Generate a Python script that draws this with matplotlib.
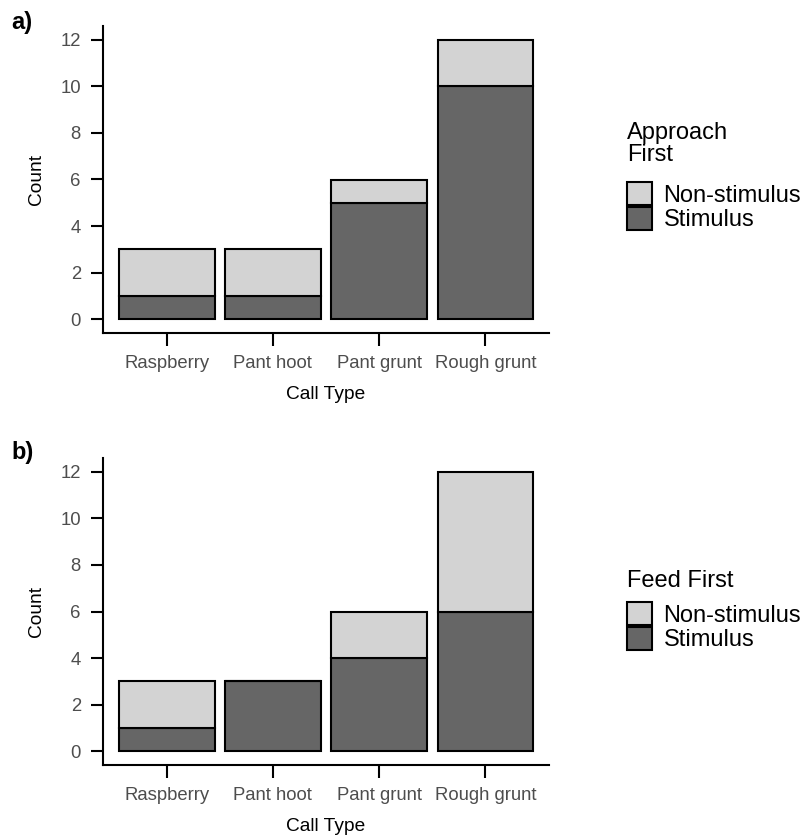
import matplotlib
matplotlib.use('Agg')
from matplotlib import pyplot as plt
from matplotlib.patches import Patch
import numpy as np

plt.rcParams['font.family'] = ['Liberation Sans', 'DejaVu Sans']

call_types = ['Raspberry', 'Pant hoot', 'Pant grunt', 'Rough grunt']
# panel a) approach first
approach_stim = [1, 1, 5, 10]
approach_non = [2, 2, 1, 2]
# panel b) feed first
feed_stim = [1, 3, 4, 6]
feed_non = [2, 0, 2, 6]

LIGHT = '#D3D3D3'
DARK = '#666666'
W, H = 807, 840


def draw_panel(ax, stim, non):
    x = np.arange(1, len(call_types) + 1)
    ax.bar(x, stim, width=0.9, color=DARK, edgecolor='black', linewidth=1.5, zorder=2)
    ax.bar(x, non, width=0.9, bottom=stim, color=LIGHT, edgecolor='black', linewidth=1.5, zorder=2)
    ax.set_xlim(0.4, 4.6)
    ax.set_ylim(-0.6, 12.6)
    ax.set_xticks(x)
    ax.set_xticklabels(call_types)
    ax.set_yticks(range(0, 13, 2))
    for s in ['top', 'right']:
        ax.spines[s].set_visible(False)
    for s in ['left', 'bottom']:
        ax.spines[s].set_linewidth(1.5)
    ax.tick_params(length=9, width=1.5, colors='black', labelcolor='#4D4D4D',
                   labelsize=13.3, pad=7)
    ax.set_xlabel('Call Type', fontsize=13.8, labelpad=10)
    ax.set_ylabel('Count', fontsize=13.8, labelpad=11)


fig = plt.figure(figsize=(W / 100, H / 100), dpi=100)
ax1 = fig.add_axes([103 / W, 1 - 333 / H, (549 - 103) / W, (333 - 26) / H])
ax2 = fig.add_axes([103 / W, 1 - 765 / H, (549 - 103) / W, (765 - 458) / H])
draw_panel(ax1, approach_stim, approach_non)
draw_panel(ax2, feed_stim, feed_non)

fig.text(11 / W, 1 - 22 / H, 'a)', fontsize=17, fontweight='bold', va='center')
fig.text(11 / W, 1 - 452 / H, 'b)', fontsize=17, fontweight='bold', va='center')

handles = [Patch(facecolor=LIGHT, edgecolor='black', linewidth=1.5),
           Patch(facecolor=DARK, edgecolor='black', linewidth=1.5)]
labels = ['Non-stimulus', 'Stimulus']
for title, ytitle, yleg in [('Approach\nFirst', 122, 182), ('Feed First', 570, 602)]:
    fig.text(627 / W, 1 - ytitle / H, title, fontsize=17, va='top', ha='left',
             linespacing=1.02)
    fig.legend(handles, labels, loc='upper left',
               bbox_to_anchor=(627 / W, 1 - yleg / H), frameon=False,
               fontsize=17, handlelength=1.05, handleheight=1.15,
               handletextpad=0.5, labelspacing=0.0,
               borderpad=0, borderaxespad=0)

fig.savefig('out.png', dpi=100)
